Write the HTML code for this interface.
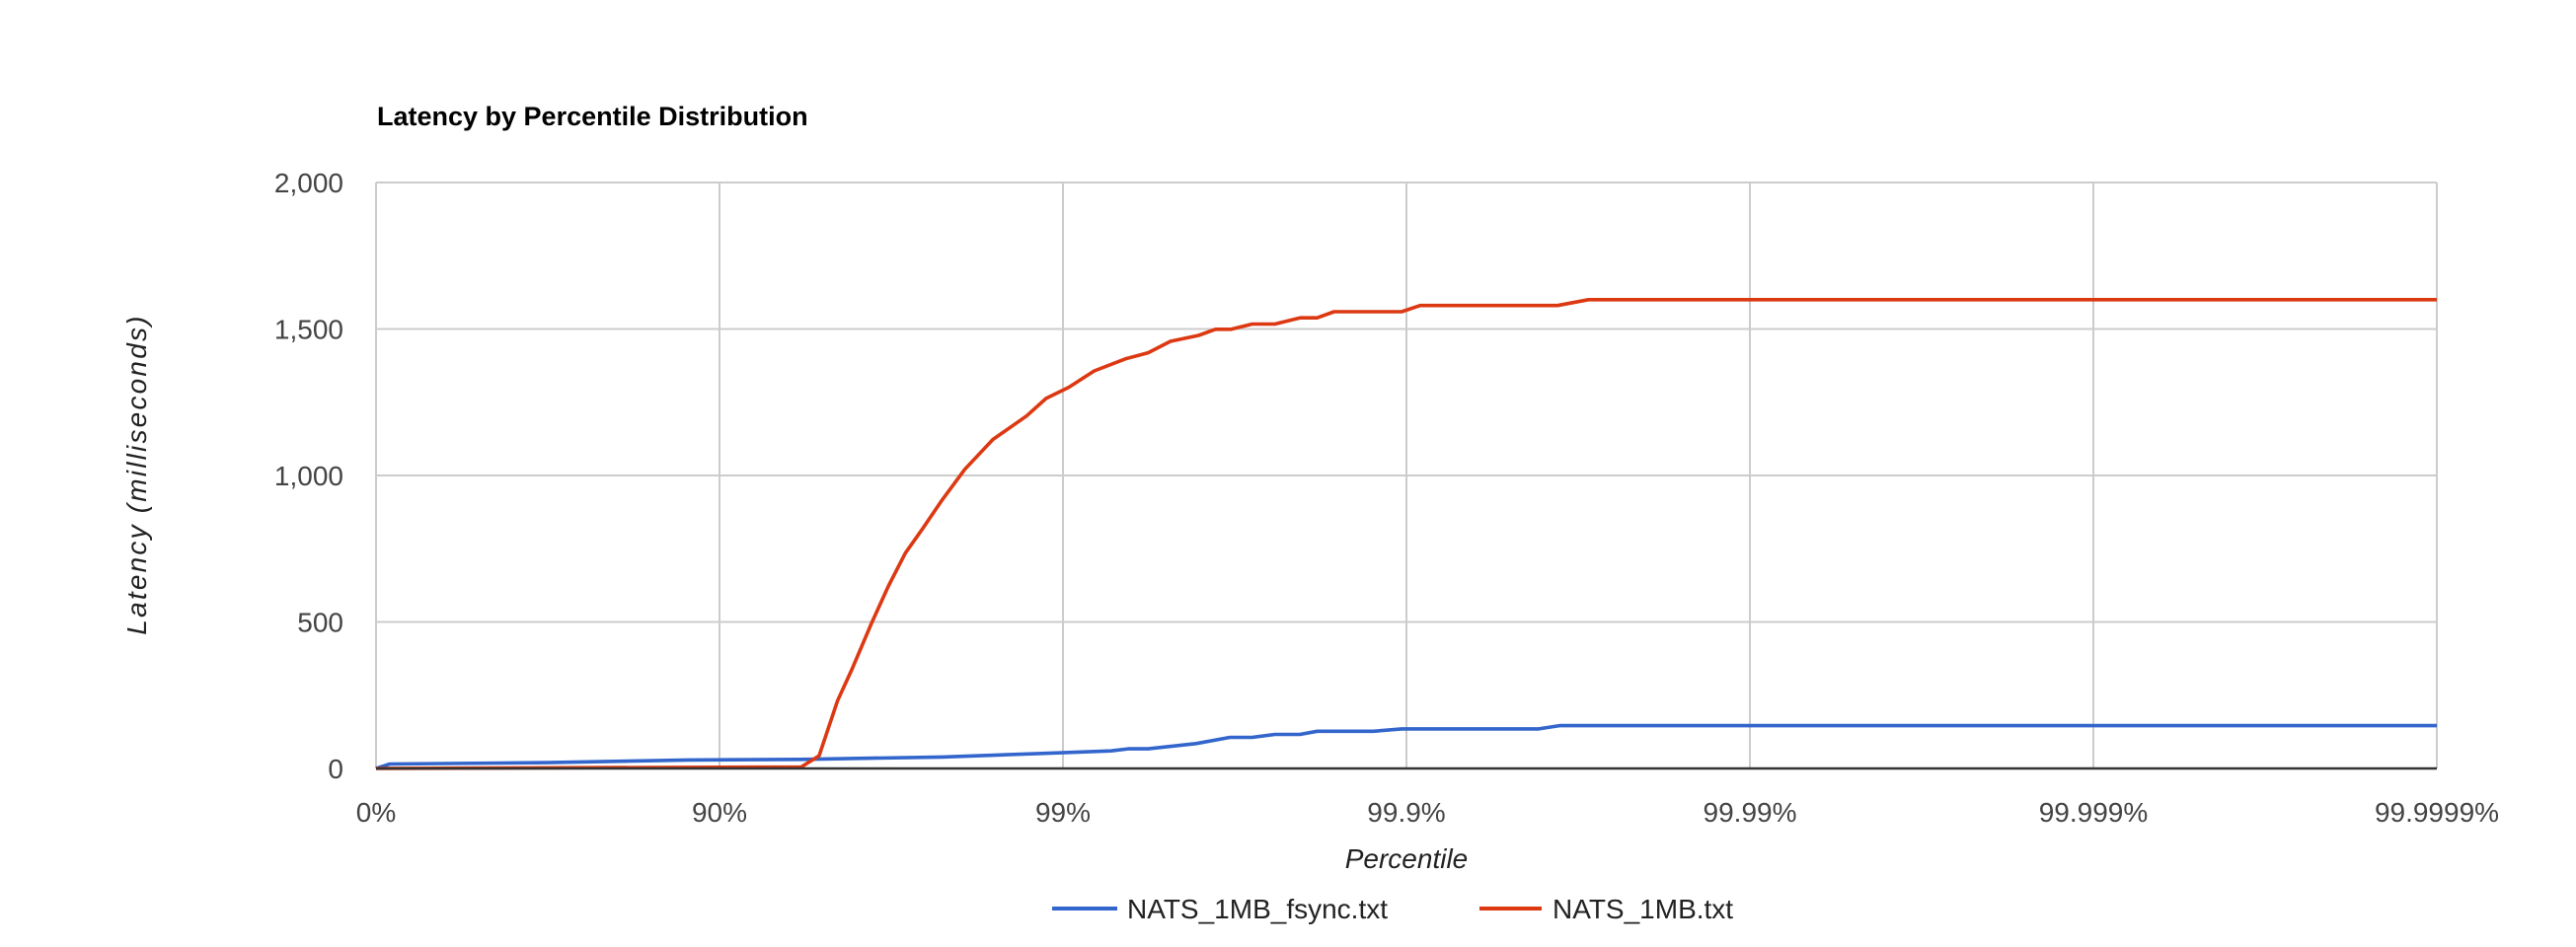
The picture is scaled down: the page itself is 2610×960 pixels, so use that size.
<!DOCTYPE html>
<html><head><meta charset="utf-8"><style>
html,body{margin:0;padding:0;background:#fff;}
svg{display:block;font-family:"Liberation Sans",Arial,sans-serif;}
</style></head><body>
<svg id="chart" width="2610" height="960" viewBox="0 0 2610 960" xmlns="http://www.w3.org/2000/svg">
<rect x="0" y="0" width="2610" height="960" fill="#fff"/>
<text x="382" y="127" font-size="27" font-weight="bold" fill="#000">Latency by Percentile Distribution</text>
<g id="grid"></g>
<g id="series"></g>
<g id="labels"></g>
<text x="1425" y="880" font-size="28" font-style="italic" fill="#222" text-anchor="middle">Percentile</text>
<text transform="translate(148,481) rotate(-90)" font-size="28" font-style="italic" letter-spacing="2.2" fill="#222" text-anchor="middle">Latency (milliseconds)</text>
<g>
<g>
<line x1="1066" y1="921" x2="1132" y2="921" stroke="#3366cc" stroke-width="4"/>
<text x="1142" y="931" font-size="28" fill="#222">NATS_1MB_fsync.txt</text>
</g>
<g>
<line x1="1499" y1="921" x2="1562" y2="921" stroke="#dc3912" stroke-width="4"/>
<text x="1573" y="931" font-size="28" fill="#222">NATS_1MB.txt</text>
</g>
</g>
</svg>
<script>
// x in "nines" units (0 = 0%, 1 = 90%, 2 = 99%, ...)
const xTickLabels = ["0%","90%","99%","99.9%","99.99%","99.999%","99.9999%"];
const yTicks = [0,500,1000,1500,2000];
const yTickLabels = ["0","500","1,000","1,500","2,000"];
const fsyncX = [0,0.04,0.5,0.909,1.238,1.648,1.977,2.14,2.19,2.248,2.387,2.486,2.551,2.617,2.69,2.74,2.904,2.986,3.385,3.446,6];
const fsyncY = [0,15,20,29,31,39,53,60,67,67,85,106,106,116,116,127,127,135,135,146,146];
const plainX = [0,1.238,1.29,1.344,1.385,1.443,1.492,1.541,1.591,1.648,1.714,1.796,1.894,1.951,2.017,2.091,2.182,2.248,2.313,2.395,2.444,2.49,2.551,2.617,2.69,2.74,2.789,2.986,3.04,3.44,3.53,6];
const plainY = [0,5,43,232,337,497,623,735,818,916,1021,1123,1203,1263,1301,1357,1398,1419,1458,1478,1499,1499,1517,1517,1538,1538,1559,1559,1580,1580,1600,1600];

const L=381,R=2469,T=185,B=779,NS="http://www.w3.org/2000/svg";
const xs=u=>L+(R-L)*u/6;
const ys=v=>B-(B-T)*v/2000;
function mk(tag,attrs,parent){const e=document.createElementNS(NS,tag);for(const k in attrs)e.setAttribute(k,attrs[k]);parent.appendChild(e);return e;}
const grid=document.getElementById('grid'),labels=document.getElementById('labels'),series=document.getElementById('series');
xTickLabels.forEach((lab,i)=>{
  const g=mk('line',{x1:xs(i),x2:xs(i),y1:T,y2:B,stroke:'#cccccc','stroke-width':2},grid);
  
  
  const t=mk('text',{x:xs(i),y:833,'font-size':28,fill:'#444','text-anchor':'middle'},labels);
  t.textContent=lab;
  
  
});
yTicks.forEach((v,i)=>{
  if(v>0){const g=mk('line',{x1:L,x2:R,y1:ys(v),y2:ys(v),stroke:'#cccccc','stroke-width':2},grid);
  
  }
  const t=mk('text',{x:348,y:ys(v)+10,'font-size':28,fill:'#444','text-anchor':'end'},labels);
  t.textContent=yTickLabels[i];
  
  
});
function line(xa,ya,color,name){
  const d=xa.map((x,i)=>(i?'L':'M')+xs(x).toFixed(1)+','+ys(ya[i]).toFixed(1)).join(' ');
  const p=mk('path',{d:d,fill:'none',stroke:color,'stroke-width':3.6,'stroke-linejoin':'round'},series);
  
  
}
line(fsyncX,fsyncY,'#3366cc','fsync-series-line');
line(plainX,plainY,'#dc3912','nofsync-series-line');
const base=mk('line',{x1:L,x2:R,y1:B,y2:B,stroke:'#333','stroke-width':2.5},series);


</script>
</body></html>
